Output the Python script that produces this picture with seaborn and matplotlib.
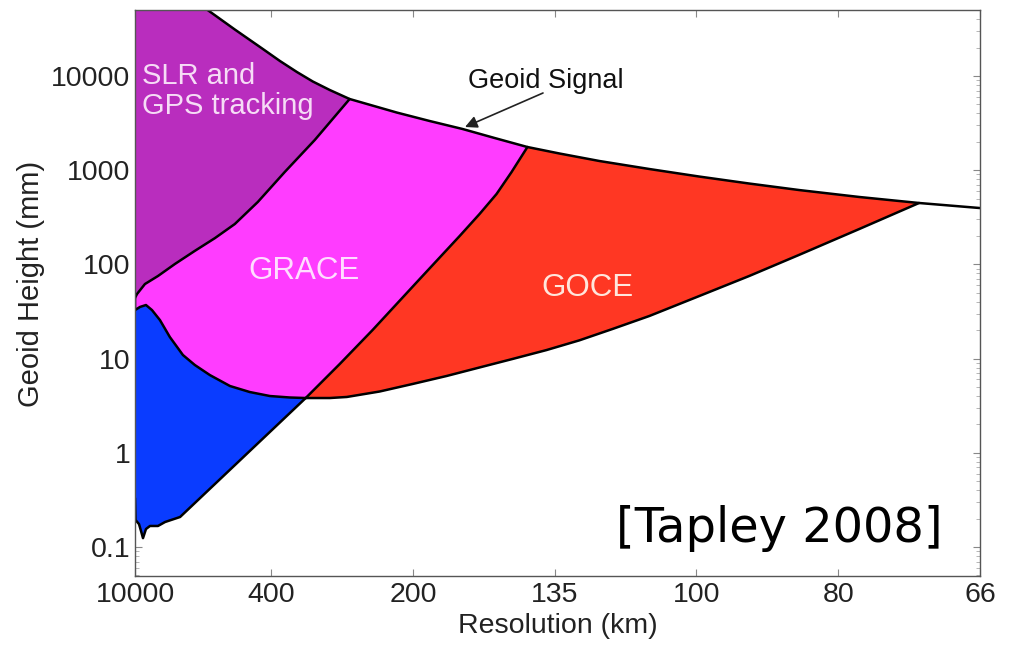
import numpy as np
import pandas as pd
import matplotlib
matplotlib.use("Agg")
import matplotlib.pyplot as plt
import seaborn as sns

# ---------------- data (spherical-harmonic degree vs geoid height in mm) ----------------
geoid_deg = [2, 15, 27.26, 37.2, 47.1, 53.1, 59.1, 64.7, 70.7, 77.7, 94.3, 105.9, 117.5,
             128.8, 140.4, 151.7, 165.8, 183.4, 201.0, 218.6, 236.2, 257.4, 278.5, 300]
geoid_mm = [1e7, 2e5, 51000, 31120, 19320, 14420, 11010, 8730, 7090, 5690, 4090, 3325, 2735,
            2195, 1760, 1502, 1250, 1028, 855, 721, 615, 519, 448, 396]

slr_grace_deg = [77.7, 65.4, 54.8, 45.3, 37.2, 30.2, 23.1, 16.1, 10.1, 5.5, 2.7, 2.0]
slr_grace_mm = [5690, 2090, 955, 459, 268, 190, 139, 101, 75.2, 61.8, 48.4, 44]

grace_low_deg = [2.0, 2.0, 3.76, 5.87, 7.99, 10.8, 14.3, 18.9, 23.1, 28.4, 35.5, 42.5, 49.6, 56.6, 62.2]
grace_low_mm = [44, 32.7, 35.3, 37.0, 32.7, 25.6, 16.9, 10.9, 8.54, 6.68, 5.11, 4.41, 4.00, 3.86, 3.81]

grace_goce_deg = [62.2, 74.2, 85.8, 102.4, 116.5, 123.5, 129.5, 134.8, 140.4]
grace_goce_mm = [3.81, 8.75, 20.1, 69.8, 200, 342, 558, 955, 1760]

goce_low_deg = [62.2, 70.7, 76.7, 88.3, 99.9, 111.9, 123.5, 135.1, 147.1, 158.7, 170.4,
                183.4, 201.0, 218.6, 236.2, 257.4, 278.5]
goce_low_mm = [3.81, 3.81, 3.91, 4.47, 5.37, 6.53, 8.04, 9.89, 12.3, 15.6, 20.6,
               28.3, 46.1, 75.2, 126, 237, 448]

blue_low_deg = [2.0, 2.18, 3.41, 4.11, 4.82, 5.87, 7.28, 10.1, 12.6, 17.9, 62.2]
blue_low_mm = [0.330, 0.193, 0.175, 0.148, 0.124, 0.155, 0.167, 0.167, 0.184, 0.208, 3.81]

x_tick_deg = [2, 50, 100, 150, 200, 250, 300]
x_tick_labels = ["10000", "400", "200", "135", "100", "80", "66"]
y_ticks = [0.1, 1, 10, 100, 1000, 10000]
y_tick_labels = ["0.1", "1", "10", "100", "1000", "10000"]

col_slr = "#B92DBE"
col_grace = "#FF3CFF"
col_goce = "#FF3723"
col_blue = "#0A3CFF"

# ---------------- style ----------------
sns.set_theme(style="ticks")
plt.rcParams["font.family"] = ["Liberation Sans", "DejaVu Sans"]

W, H = 1013, 650
fig = plt.figure(figsize=(W / 100, H / 100), dpi=100)
ax = fig.add_axes([135 / W, 1 - 575.5 / H, 845 / W, 565.5 / H])
ax.set_yscale("log")
ax.set_xlim(2, 300)
ax.set_ylim(10 ** -1.303, 10 ** 4.70)
ax.set_axisbelow(True)

g_d = np.array(geoid_deg); g_m = np.array(geoid_mm)
sg_d = np.array(slr_grace_deg); sg_m = np.array(slr_grace_mm)
gl_d = np.array(grace_low_deg); gl_m = np.array(grace_low_mm)
gg_d = np.array(grace_goce_deg); gg_m = np.array(grace_goce_mm)
ol_d = np.array(goce_low_deg); ol_m = np.array(goce_low_mm)
bl_d = np.array(blue_low_deg); bl_m = np.array(blue_low_mm)

# SLR region
m1 = g_d <= sg_d[0]
ax.fill(np.r_[g_d[m1], sg_d], np.r_[g_m[m1], sg_m], color=col_slr, lw=0, zorder=1)
# GRACE region
m2 = (g_d >= sg_d[0]) & (g_d <= gg_d[-1])
ax.fill(np.r_[g_d[m2], gg_d[::-1], gl_d[::-1], sg_d[::-1]],
        np.r_[g_m[m2], gg_m[::-1], gl_m[::-1], sg_m[::-1]], color=col_grace, lw=0, zorder=1)
# GOCE region
m3 = (g_d >= gg_d[-1]) & (g_d <= ol_d[-1])
ax.fill(np.r_[g_d[m3], ol_d[::-1], gg_d], np.r_[g_m[m3], ol_m[::-1], gg_m],
        color=col_goce, lw=0, zorder=1)
# blue region
ax.fill(np.r_[gl_d[1:], bl_d[::-1]], np.r_[gl_m[1:], bl_m[::-1]], color=col_blue, lw=0, zorder=1)

# boundaries
for d, m in [(g_d, g_m), (sg_d, sg_m), (gl_d, gl_m), (gg_d, gg_m), (ol_d, ol_m), (bl_d, bl_m)]:
    sns.lineplot(x=d, y=m, sort=False, estimator=None, color="black", lw=1.8, ax=ax, zorder=3)

# axes
ax.set_xticks(x_tick_deg)
ax.set_xticklabels(x_tick_labels)
ax.set_yticks(y_ticks)
ax.set_yticklabels(y_tick_labels)
ax.tick_params(axis="both", which="major", direction="in", length=5, width=0.8,
               color="#888888", labelsize=20.5, labelcolor="#222222", top=True, right=True)
ax.tick_params(axis="x", pad=4.5)
ax.tick_params(axis="y", pad=3.5)
ax.tick_params(axis="y", which="minor", direction="in", length=3, width=0.6,
               color="#aaaaaa", right=True)
ax.tick_params(axis="x", which="minor", bottom=False, top=False)
for s in ax.spines.values():
    s.set_color("#555555")
    s.set_linewidth(1.0)
    s.set_zorder(4)

ax.set_xlabel("Resolution (km)", fontsize=20.5, color="#222222", labelpad=4)
ax.set_ylabel("Geoid Height (mm)", fontsize=21, color="#222222", labelpad=4)
ax.yaxis.label.set_y(0.515)

# text annotations (positioned in figure pixels)
def fp(x, y):
    return (x / W, 1 - y / H)

fig.text(*fp(142, 62), "SLR and\nGPS tracking", fontsize=21, color="#F6DCF6",
         ha="left", va="top", linespacing=1.1)
fig.text(*fp(304, 279), "GRACE", fontsize=22.5, color="#FFDDFF", ha="center", va="baseline")
fig.text(*fp(587, 296), "GOCE", fontsize=22.5, color="#FFE6DC", ha="center", va="baseline")
fig.text(*fp(468, 88), "Geoid Signal", fontsize=19.5, color="#111111", ha="left", va="baseline")
ax.annotate("", xy=fp(465, 127), xycoords="figure fraction",
            xytext=fp(543, 93), textcoords="figure fraction",
            arrowprops=dict(arrowstyle="-|>", color="#222222", lw=1.2, mutation_scale=18,
                            shrinkA=0, shrinkB=0), zorder=5)
fig.text(*fp(943, 542), "[Tapley 2008]", fontsize=34.5, color="black", ha="right",
         va="baseline", family="DejaVu Sans")

fig.savefig("out.png", dpi=100)
